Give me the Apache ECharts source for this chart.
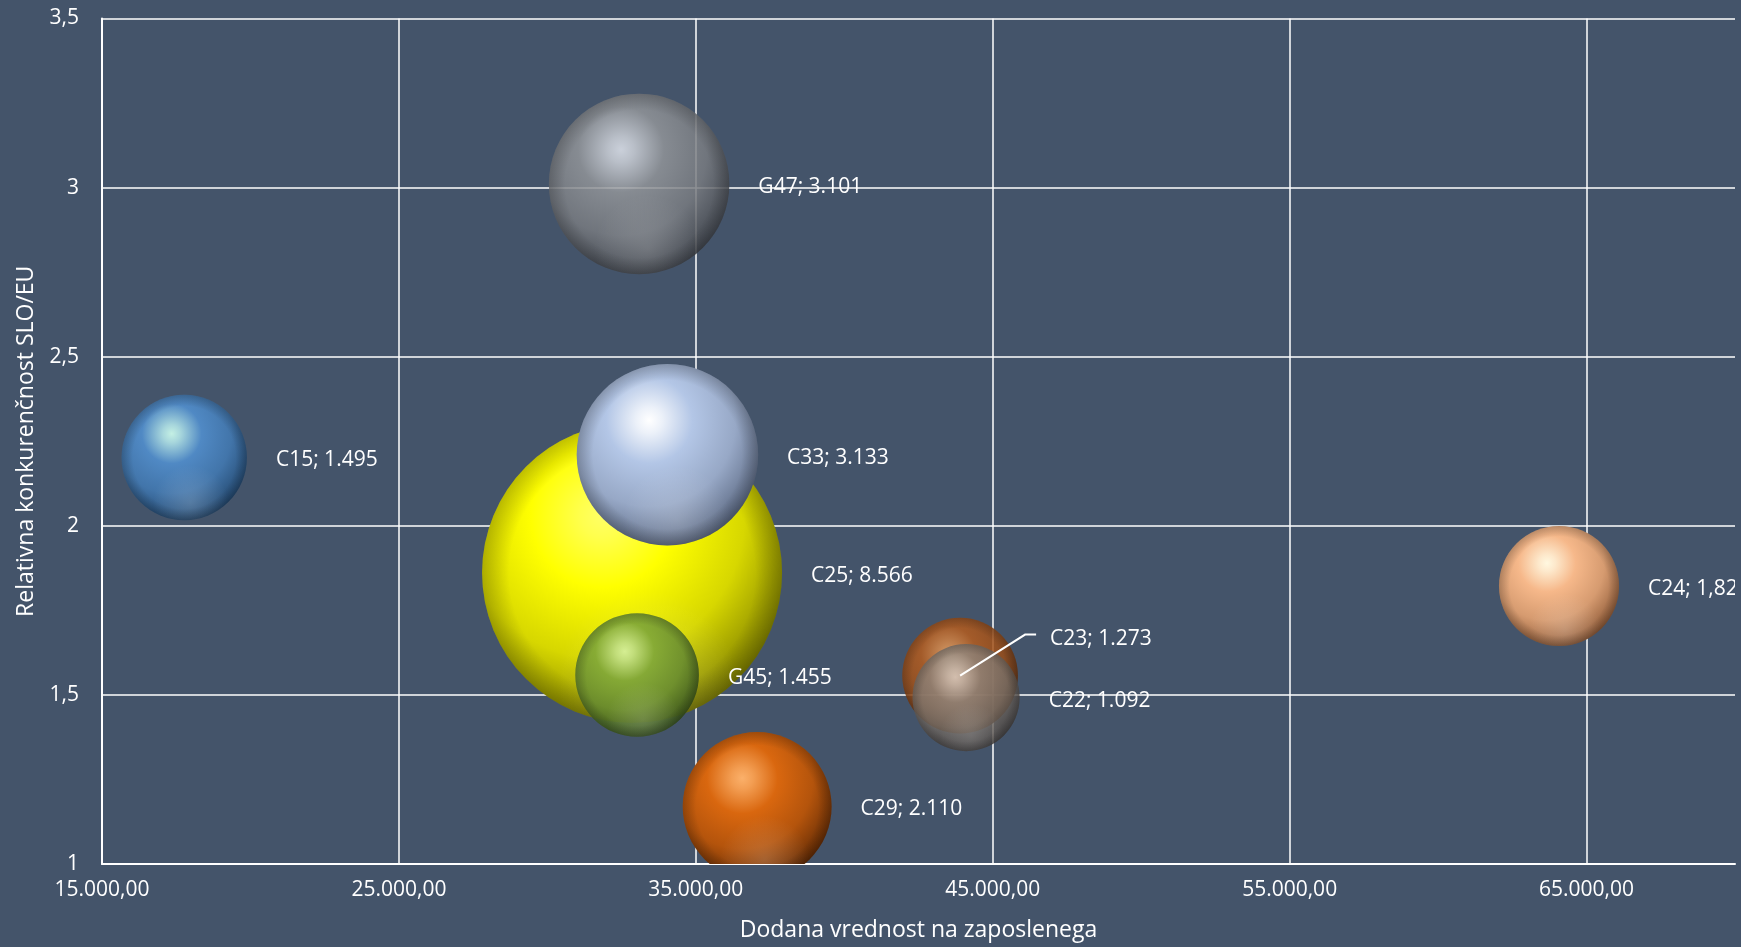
<!DOCTYPE html>
<html><head><meta charset="utf-8">
<script src="https://cdn.jsdelivr.net/npm/echarts@6/dist/echarts.min.js"></script>
<style>html,body{margin:0;padding:0;background:#44546a;} #c{width:1741px;height:947px;}</style>
</head><body><div id="c"></div>
<script>
const names   = ['C15', 'G47', 'C25', 'C33', 'G45', 'C29', 'C23', 'C22', 'C24'];
const xValues = [17770, 33090, 32853, 34043, 33022, 37066, 43901, 44103, 64073];
const yValues = [2.202, 3.011, 1.861, 2.210, 1.559, 1.170, 1.557, 1.492, 1.822];
const sizes   = [1.495, 3.101, 8.566, 3.133, 1.455, 2.110, 1.273, 1.092, 1.373];
const labels  = ['C15; 1.495', 'G47; 3.101', 'C25; 8.566', 'C33; 3.133', 'G45; 1.455', 'C29; 2.110', 'C23; 1.273', 'C22; 1.092', 'C24; 1,82'];
const xAxisTitle = 'Dodana vrednost na zaposlenega';
const yAxisTitle = 'Relativna konkurenčnost SLO/EU';

// sphere palettes: [highlight, base, dark edge, opacity]
const palette = {
  C15: ['#c4f0e4', '#5089c4', '#22466c', 1],
  G47: ['#e2e6ee', '#929599', '#3c3f45', 0.85],
  C25: ['#ffff66', '#ffff00', '#7a7a00', 1],
  C33: ['#ffffff', '#b3c6e6', '#56637c', 1],
  G45: ['#d4f0a0', '#7ea638', '#35501a', 0.9],
  C29: ['#fbb06a', '#d9670f', '#5e2905', 1],
  C23: ['#e8a060', '#b45c1e', '#552808', 0.85],
  C22: ['#ddd5cd', '#8e857d', '#413b37', 0.8],
  C24: ['#fff8e0', '#f6b88a', '#8a5634', 1]
};
function hex(c) { return [1, 3, 5].map(i => parseInt(c.substr(i, 2), 16)); }
function mix(a, b, t) {
  const A = hex(a), B = hex(b);
  return 'rgb(' + A.map((v, i) => Math.round(v + (B[i] - v) * t)).join(',') + ')';
}
function sphere(p) {
  return {
    type: 'radial', x: 0.4, y: 0.31, r: 0.72,
    colorStops: [
      {offset: 0, color: p[0]},
      {offset: 0.1, color: mix(p[0], p[1], 0.25)},
      {offset: 0.33, color: p[1]},
      {offset: 0.66, color: mix(p[1], p[2], 0.3)},
      {offset: 1, color: p[2]}
    ]
  };
}
const rim = {
  type: 'radial', x: 0.5, y: 0.5, r: 0.5,
  colorStops: [
    {offset: 0, color: 'rgba(0,0,0,0)'},
    {offset: 0.82, color: 'rgba(0,0,0,0)'},
    {offset: 1, color: 'rgba(0,0,0,0.22)'}
  ]
};
const glow = {
  type: 'radial', x: 0.55, y: 0.86, r: 0.3,
  colorStops: [
    {offset: 0, color: 'rgba(255,255,255,0.16)'},
    {offset: 1, color: 'rgba(255,255,255,0)'}
  ]
};
function fmtX(v) {
  const s = Math.round(v).toString().replace(/\B(?=(\d{3})+(?!\d))/g, '.');
  return s + ',00';
}
function fmtY(v) { return String(v).replace('.', ','); }

const FONT = 'Open Sans';
const K = 51.25;        // px radius per sqrt(size unit)
const LABEL_GAP = 29;   // px between bubble edge and its label

function renderItem(params, api) {
  const i = params.dataIndex;
  const n = names[i];
  const p = palette[n];
  const pt = api.coord([api.value(0), api.value(1)]);
  const r = K * Math.sqrt(api.value(2));
  const moved = n === 'C23';
  const lx = pt[0] + r + LABEL_GAP + (moved ? 3 : 0);
  const ly = pt[1] + 3 + (moved ? -40 : 0);
  const children = [
    { type: 'circle', shape: { cx: pt[0], cy: pt[1], r: r }, style: { fill: sphere(p), opacity: p[3] } },
    { type: 'circle', shape: { cx: pt[0], cy: pt[1], r: r }, style: { fill: glow, opacity: p[3] } },
    { type: 'circle', shape: { cx: pt[0], cy: pt[1], r: r }, style: { fill: rim, opacity: p[3] } },
    { type: 'text', style: { x: lx, y: ly, text: labels[i], fill: '#ffffff', font: '21px "' + FONT + '"', verticalAlign: 'middle', align: 'left' } }
  ];
  if (moved) {
    children.push({ type: 'polyline', z2: 50,
      shape: { points: [[pt[0], pt[1]], [pt[0] + 65, pt[1] - 41], [pt[0] + 76, pt[1] - 41]] },
      style: { stroke: '#ffffff', lineWidth: 2, fill: null } });
  }
  return { type: 'group', children: children };
}

const chart = echarts.init(document.getElementById('c'), null, {renderer: 'canvas'});
chart.setOption({
  backgroundColor: '#44546a',
  animation: false,
  textStyle: { fontFamily: FONT },
  grid: { left: 102, right: 6, top: 18.5, bottom: 83, containLabel: false },
  xAxis: {
    type: 'value', min: 15000, max: 70000, interval: 10000,
    name: xAxisTitle, nameLocation: 'middle', nameGap: 55,
    nameTextStyle: { color: '#ffffff', fontSize: 23, fontFamily: FONT },
    axisLine: { show: true, lineStyle: { color: '#ffffff', width: 2 } },
    axisTick: { show: false },
    axisLabel: { color: '#ffffff', fontSize: 21, fontFamily: FONT, margin: 16, formatter: fmtX, showMaxLabel: false },
    splitLine: { show: true, showMaxLine: false, lineStyle: { color: '#ffffff', width: 1.5 } }
  },
  yAxis: {
    type: 'value', min: 1, max: 3.5, interval: 0.5,
    name: yAxisTitle, nameLocation: 'middle', nameGap: 64,
    nameTextStyle: { color: '#ffffff', fontSize: 23, fontFamily: FONT },
    axisLine: { show: true, lineStyle: { color: '#ffffff', width: 2 } },
    axisTick: { show: false },
    axisLabel: { color: '#ffffff', fontSize: 21, fontFamily: FONT, margin: 23, formatter: fmtY },
    splitLine: { show: true, lineStyle: { color: '#ffffff', width: 1.5 } }
  },
  series: [{
    type: 'custom',
    clip: true,
    renderItem: renderItem,
    encode: { x: 0, y: 1 },
    data: names.map((n, i) => ({ name: n, value: [xValues[i], yValues[i], sizes[i]] })),
    emphasis: { disabled: true }
  }]
});
</script></body></html>
